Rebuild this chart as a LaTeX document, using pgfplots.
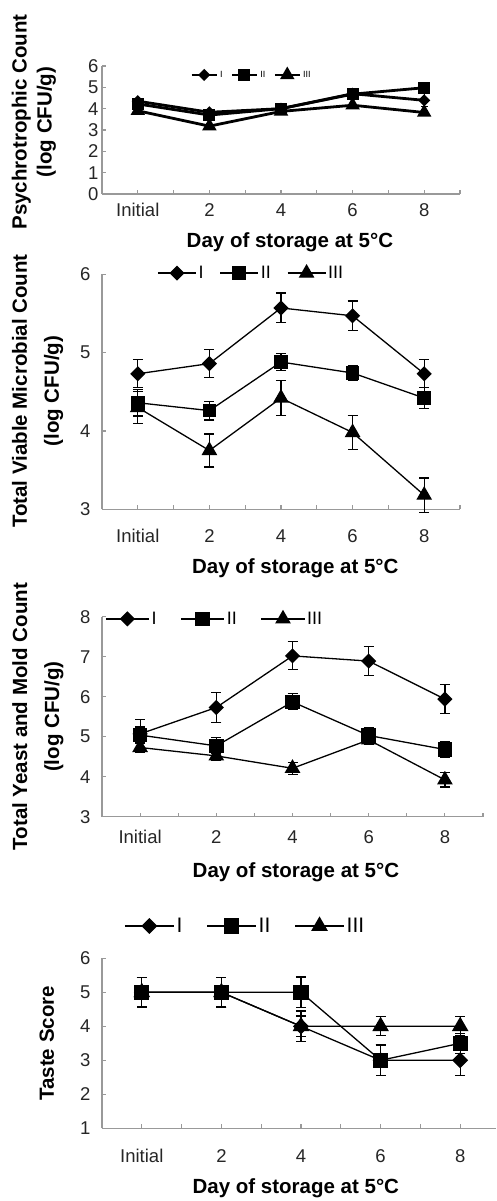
\documentclass[border=0pt]{standalone}
\usepackage{pgfplots}
\pgfplotsset{compat=1.18}
\usepackage{fontspec}
\setmainfont{Liberation Sans}
\newcommand{\tfont}{\fontsize{18.5}{20}\selectfont}
\newcommand{\lfont}{\fontsize{20.5}{22}\selectfont\bfseries}
\pgfplotsset{
 base/.style={scale only axis, anchor=south west,
  axis lines=left, axis line style={-, line width=1.3pt, draw=black!40},
  tick style={line width=1.1pt, draw=black!40},
  major tick length=4pt, minor tick length=4pt, tick align=inside,
  xmin=-0.5, xmax=4.5, xtick={0,...,4}, xticklabels={Initial,2,4,6,8},
  minor xtick={0.5,1.5,2.5,3.5,4.5},
  ticklabel style={font=\tfont, text=black!85},
  xticklabel style={text height=13.5pt, text depth=0pt},
  /pgf/number format/assume math mode=true,
  xlabel={Day of storage at 5\textdegree C},
  xlabel style={font=\lfont, anchor=center},
  ylabel style={font=\lfont, anchor=center, align=center},
  clip=false, legend columns=3,
  legend style={draw=none, fill=none, inner sep=0pt, anchor=west},
  error bars/y dir=both, error bars/y explicit,
  error bars/error bar style={line width=1.2pt, black},
  error bars/error mark options={line width=1.2pt, black, mark size=5pt, rotate=90},
 },
 sI/.style={black, line width=1.3pt, mark=square*, mark size=4.7pt, mark options={rotate=45, solid, fill=black}},
 sII/.style={black, line width=1.3pt, mark=square*, mark size=6.2pt, mark options={solid, fill=black}},
 sIII/.style={black, line width=1.3pt, mark=triangle*, mark size=7.8pt, mark options={solid, fill=black}},
}
\begin{document}
\begin{tikzpicture}
\useasboundingbox (0,0) rectangle (496pt,1201pt);
% Panel 1
\begin{axis}[base, at={(102pt,1007pt)}, width=358pt, height=128pt,
  ymin=0, ymax=6, ytick={0,...,6},
  xticklabel style={yshift=-5pt},
  ylabel={Psychrotrophic Count\\[3pt](log CFU/g)},
  ylabel style={at={(axis description cs:-0.19,0.5625)}},
  xlabel style={at={(axis description cs:0.525,-0.375)}},
  legend style={at={(axis description cs:0.246,0.93)}, font=\fontsize{9}{10}\selectfont, /tikz/every even column/.append style={column sep=6pt}},
  legend image code/.code={\draw[mark repeat=2,mark phase=2,#1] plot coordinates {(0pt,0pt) (12.5pt,0pt) (25pt,0pt)};},
  error bars/error mark options={line width=1pt, black, mark size=3.5pt, rotate=90},
  error bars/error bar style={line width=1pt, black},
]
\addplot[sI, line width=2.8pt, mark size=2.9pt] table[x=x,y=y,y error=e] {
x y e
0 4.35 0.10
1 3.83 0.10
2 4.00 0.10
3 4.70 0.15
4 4.39 0.30
};
\addplot[sII, line width=2.8pt, mark size=4.6pt] table[x=x,y=y,y error=e] {
x y e
0 4.22 0.10
1 3.70 0.10
2 4.00 0.10
3 4.68 0.10
4 4.98 0.15
};
\addplot[sIII, line width=2.8pt, mark size=5.6pt] table[x=x,y=y,y error=e] {
x y e
0 3.90 0.08
1 3.18 0.08
2 3.87 0.08
3 4.16 0.08
4 3.82 0.10
};
\legend{I,II,III}
\end{axis}
% Panel 2
\begin{axis}[base, at={(102pt,691.7pt)}, width=358pt, height=235pt,
  ymin=3, ymax=6, ytick={3,...,6},
  xticklabel style={yshift=-16pt}, yticklabel style={xshift=-8pt},
  ylabel={Total Viable Microbial Count\\[10pt](log CFU/g)},
  ylabel style={at={(axis description cs:-0.18,0.503)}},
  xlabel style={at={(axis description cs:0.54,-0.25)}},
  legend style={at={(axis description cs:0.154,1.005)}, font=\fontsize{18}{20}\selectfont, /tikz/every even column/.append style={column sep=14pt}},
  legend image code/.code={\draw[mark repeat=2,mark phase=2,#1] plot coordinates {(0pt,0pt) (19pt,0pt) (38pt,0pt)};},
]
\addplot[sI] table[x=x,y=y,y error=e] {
x y e
0 4.73 0.18
1 4.86 0.18
2 5.57 0.19
3 5.47 0.19
4 4.73 0.18
};
\addplot[sII] table[x=x,y=y,y error=e] {
x y e
0 4.36 0.17
1 4.26 0.12
2 4.88 0.11
3 4.74 0.10
4 4.42 0.13
};
\addplot[sIII] table[x=x,y=y,y error=e] {
x y e
0 4.30 0.20
1 3.75 0.21
2 4.42 0.22
3 3.98 0.22
4 3.18 0.22
};
\legend{I,II,III}
\end{axis}
% Panel 3
\begin{axis}[base, at={(102pt,384.3pt)}, width=381pt, height=200pt,
  ymin=3, ymax=8, ytick={3,...,8},
  xticklabel style={yshift=-10pt}, yticklabel style={xshift=-8pt},
  ylabel={Total Yeast and Mold Count\\[10pt](log CFU/g)},
  ylabel style={at={(axis description cs:-0.168,0.5)}},
  xlabel style={at={(axis description cs:0.509,-0.28)}},
  legend style={at={(axis description cs:0.008,0.989)}, font=\fontsize{18}{20}\selectfont, /tikz/every even column/.append style={column sep=22pt}},
  legend image code/.code={\draw[mark repeat=2,mark phase=2,#1] plot coordinates {(0pt,0pt) (21.5pt,0pt) (43pt,0pt)};},
]
\addplot[sI] table[x=x,y=y,y error=e] {
x y e
0 5.07 0.36
1 5.73 0.37
2 7.02 0.35
3 6.89 0.37
4 5.94 0.36
};
\addplot[sII, mark size=6.6pt] table[x=x,y=y,y error=e] {
x y e
0 5.04 0.20
1 4.77 0.20
2 5.87 0.20
3 5.03 0.20
4 4.68 0.20
};
\addplot[sIII] table[x=x,y=y,y error=e] {
x y e
0 4.73 0.12
1 4.52 0.12
2 4.21 0.15
3 4.92 0.12
4 3.92 0.18
};
\legend{I,II,III}
\end{axis}
% Panel 4
\begin{axis}[base, at={(102pt,72.7pt)}, width=394pt, height=170pt, xmax=4.45,
  ymin=1, ymax=6, ytick={1,...,6}, minor xtick={0.5,1.5,2.5,3.5},
  xticklabel style={yshift=-17pt}, yticklabel style={xshift=-8pt},
  ylabel={Taste Score},
  ylabel style={at={(axis description cs:-0.14,0.5)}},
  xlabel style={at={(axis description cs:0.492,-0.351)}},
  legend style={at={(axis description cs:0.056,1.19)}, font=\fontsize{21}{22}\selectfont, /tikz/every even column/.append style={column sep=22pt}},
  legend image code/.code={\draw[mark repeat=2,mark phase=2,#1] plot coordinates {(0pt,0pt) (24.5pt,0pt) (49pt,0pt)};},
]
\addplot[sI, mark size=5pt] table[x=x,y=y,y error=e] {
x y e
0 5 0.43
1 5 0.43
2 4 0.45
3 3 0.45
4 3 0.45
};
\addplot[sII, mark size=7pt] table[x=x,y=y,y error=e] {
x y e
0 5 0.43
1 5 0.43
2 5 0.45
3 3 0.45
4 3.5 0.30
};
\addplot[sIII, mark size=8.3pt] table[x=x,y=y,y error=e] {
x y e
0 5 0.43
1 5 0.43
2 4 0.30
3 4 0.28
4 4 0.28
};
\addplot[sII, mark size=7pt, forget plot, only marks] table[x=x,y=y] {
x y
0 5
1 5
};
\legend{I,II,III}
\end{axis}
\end{tikzpicture}
\end{document}
